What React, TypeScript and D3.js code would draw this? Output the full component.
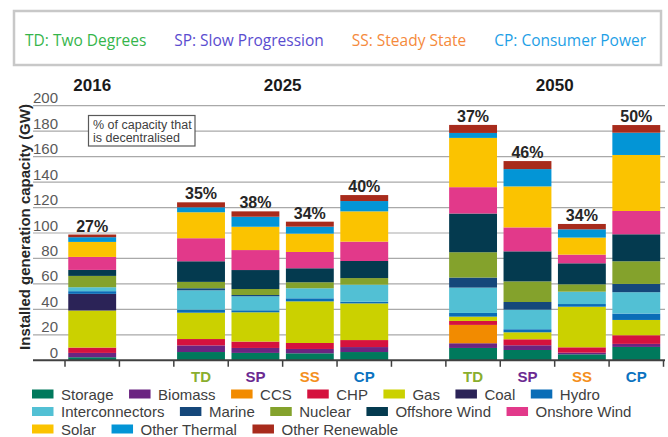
import React, { useEffect, useRef } from 'react';
import * as d3 from 'd3';

// categories (gaps are empty slots on the axis)
const slots = ['2016', 'gapA', 'TD25', 'SP25', 'SS25', 'CP25', 'gapB', 'TD50', 'SP50', 'SS50', 'CP50'];
const scenarioLabels = ['', '', 'TD', 'SP', 'SS', 'CP', '', 'TD', 'SP', 'SS', 'CP'];
const pctLabels = ['27%', '', '35%', '38%', '34%', '40%', '', '37%', '46%', '34%', '50%'];
const yTicks = [0, 20, 40, 60, 80, 100, 120, 140, 160, 180, 200];

// GW per technology, same order as slots
const storage = [2.4, 0, 6.5, 5.8, 5.5, 6.5, 0, 9.7, 8.1, 4.7, 10.5];
const biomass = [3.4, 0, 5.2, 3.9, 3.4, 3.9, 0, 3.7, 3.7, 1.3, 2.4];
const ccs = [0, 0, 0, 0, 0, 0, 0, 14.4, 0, 0, 0];
const chp = [4.2, 0, 5.0, 5.0, 4.7, 5.5, 0, 3.1, 4.7, 4.2, 6.8];
const gas = [29.1, 0, 20.7, 23.0, 32.7, 28.8, 0, 3.4, 5.5, 31.9, 12.0];
const coal = [13.1, 0, 0, 0, 0, 0, 0, 0, 0, 0, 0];
const hydro = [2.1, 0, 2.4, 1.6, 2.4, 1.3, 0, 2.9, 2.4, 2.1, 5.0];
const interconnectors = [3.1, 0, 15.2, 11.0, 7.9, 13.4, 0, 19.9, 15.4, 9.7, 16.8];
const marine = [0, 0, 1.6, 1.0, 0, 0, 0, 7.9, 6.0, 0, 6.5];
const nuclear = [8.9, 0, 5.0, 4.7, 4.7, 5.2, 0, 19.9, 16.2, 5.8, 17.8];
const offshoreWind = [4.7, 0, 16.2, 14.9, 11.0, 13.4, 0, 30.4, 23.6, 16.5, 21.2];
const onshoreWind = [10.2, 0, 18.1, 15.7, 12.8, 15.2, 0, 20.7, 18.8, 6.8, 18.3];
const solar = [11.8, 0, 20.4, 18.3, 14.4, 23.8, 0, 38.7, 32.2, 13.4, 44.0];
const otherThermal = [3.7, 0, 3.9, 7.9, 5.5, 8.1, 0, 3.9, 13.6, 6.5, 17.5];
const otherRenewable = [2.1, 0, 3.9, 4.2, 3.9, 4.7, 0, 6.3, 6.3, 4.2, 6.0];

const series = [
  { name: 'Storage', values: storage, color: '#00795c' },
  { name: 'Biomass', values: biomass, color: '#6b2481' },
  { name: 'CCS', values: ccs, color: '#f28b00' },
  { name: 'CHP', values: chp, color: '#d5123e' },
  { name: 'Gas', values: gas, color: '#cbd100' },
  { name: 'Coal', values: coal, color: '#2b2357' },
  { name: 'Hydro', values: hydro, color: '#0a6db7' },
  { name: 'Interconnectors', values: interconnectors, color: '#52c0d4' },
  { name: 'Marine', values: marine, color: '#15477a' },
  { name: 'Nuclear', values: nuclear, color: '#84a22c' },
  { name: 'Offshore Wind', values: offshoreWind, color: '#043a4f' },
  { name: 'Onshore Wind', values: onshoreWind, color: '#e2398a' },
  { name: 'Solar', values: solar, color: '#fbc300' },
  { name: 'Other Thermal', values: otherThermal, color: '#0395d6' },
  { name: 'Other Renewable', values: otherRenewable, color: '#a82b1c' },
];

const scenarios = [
  { text: 'TD: Two Degrees', color: '#35b54b' },
  { text: 'SP: Slow Progression', color: '#5a4ccf' },
  { text: 'SS: Steady State', color: '#f58a3c' },
  { text: 'CP: Consumer Power', color: '#1ea0e6' },
];
const scenarioColors = { TD: '#8aae2e', SP: '#6b2a91', SS: '#f4901e', CP: '#0b72c0' };

const App = () => {
  const svgRef = useRef(null);

  useEffect(() => {
    const svg = d3.select(svgRef.current);
    svg.selectAll('*').remove();

    const arial = '"Liberation Sans", Arial, sans-serif';

    // top scenario box
    svg.append('rect')
      .attr('x', 14).attr('y', 11).attr('width', 647).attr('height', 54)
      .attr('fill', '#fff').attr('stroke', '#c8c8c8').attr('stroke-width', 2.5);

    const topTexts = svg.append('g').selectAll('text')
      .data(scenarios).enter().append('text')
      .attr('y', 46)
      .style('font-family', '"Open Sans", sans-serif')
      .style('font-size', '15.5px')
      .attr('fill', d => d.color)
      .text(d => d.text);
    const widths = topTexts.nodes().map(n => n.getComputedTextLength());
    const gap = (646 - 25 - d3.sum(widths)) / (widths.length - 1);
    let cx = 25;
    topTexts.attr('x', (d, i) => {
      const v = cx;
      cx += widths[i] + gap;
      return v;
    });

    // scales
    const x = d3.scaleBand().domain(slots).range([65, 663.5]).paddingInner(0.12).paddingOuter(0.06);
    const y = d3.scaleLinear().domain([0, 200]).range([360.3, 105.7]);
    const step = x.step();
    const bw = x.bandwidth();

    // gridlines
    svg.append('g').selectAll('line')
      .data(yTicks.filter(t => t > 0)).enter().append('line')
      .attr('x1', 33).attr('x2', 665)
      .attr('y1', d => y(d)).attr('y2', d => y(d))
      .attr('stroke', '#a9a9a9').attr('stroke-width', 1.2);

    // y labels (sit above gridlines)
    svg.append('g').selectAll('text')
      .data(yTicks).enter().append('text')
      .attr('x', 58).attr('y', d => y(d) - 2.5)
      .attr('text-anchor', 'end')
      .style('font-family', arial).style('font-size', '15px')
      .attr('fill', '#595959')
      .text(d => d);

    svg.append('text')
      .attr('transform', 'translate(30,227) rotate(-90)')
      .attr('text-anchor', 'middle')
      .style('font-family', arial).style('font-size', '15px').style('font-weight', 'bold')
      .attr('fill', '#262626')
      .text('Installed generation capacity (GW)');

    // stacked bars
    const table = slots.map((s, i) => {
      const row = { slot: s };
      series.forEach(se => { row[se.name] = se.values[i]; });
      return row;
    });
    const stacked = d3.stack().keys(series.map(s => s.name))(table);

    svg.append('g').selectAll('g')
      .data(stacked).enter().append('g')
      .attr('fill', (d, i) => series[i].color)
      .selectAll('rect')
      .data(d => d.filter(p => p[1] - p[0] > 0)).enter().append('rect')
      .attr('x', d => x(d.data.slot))
      .attr('width', bw)
      .attr('y', d => y(d[1]))
      .attr('height', d => y(d[0]) - y(d[1]));

    // axis line + ticks
    svg.append('line')
      .attr('x1', 33).attr('x2', 665).attr('y1', y(0)).attr('y2', y(0))
      .attr('stroke', '#404040').attr('stroke-width', 2);
    const bounds = slots.map(s => x(s) - step * 0.06).concat([663.5]);
    svg.append('g').selectAll('line')
      .data(bounds).enter().append('line')
      .attr('x1', d => d).attr('x2', d => d)
      .attr('y1', y(0)).attr('y2', y(0) + 6.5)
      .attr('stroke', '#404040').attr('stroke-width', 1.5);

    // % decentralised labels
    const totals = table.map((r, i) => d3.sum(series, s => s.values[i]));
    svg.append('g').selectAll('text')
      .data(slots).enter().append('text')
      .attr('x', d => x(d) + bw / 2)
      .attr('y', (d, i) => y(totals[i]) - 3)
      .attr('text-anchor', 'middle')
      .style('font-family', arial).style('font-size', '16px').style('font-weight', 'bold')
      .attr('fill', '#262626')
      .text((d, i) => pctLabels[i]);

    // scenario labels under bars
    svg.append('g').selectAll('text')
      .data(slots).enter().append('text')
      .attr('x', d => x(d) + bw / 2)
      .attr('y', 381.5)
      .attr('text-anchor', 'middle')
      .style('font-family', arial).style('font-size', '15px').style('font-weight', 'bold')
      .attr('fill', (d, i) => scenarioColors[scenarioLabels[i]] || 'none')
      .text((d, i) => scenarioLabels[i]);

    // year headings
    const years = [
      { text: '2016', x: x('2016') + bw / 2 },
      { text: '2025', x: (x('TD25') + x('CP25') + bw) / 2 },
      { text: '2050', x: (x('TD50') + x('CP50') + bw) / 2 },
    ];
    svg.append('g').selectAll('text')
      .data(years).enter().append('text')
      .attr('x', d => d.x).attr('y', 90.5)
      .attr('text-anchor', 'middle')
      .style('font-family', arial).style('font-size', '17px').style('font-weight', 'bold')
      .attr('fill', '#1a1a1a')
      .text(d => d.text);

    // annotation box
    svg.append('rect')
      .attr('x', 88.5).attr('y', 115.5).attr('width', 106.5).attr('height', 30.5)
      .attr('fill', '#fff').attr('stroke', '#595959').attr('stroke-width', 1.2);
    svg.append('text')
      .attr('x', 93).attr('y', 129)
      .style('font-family', arial).style('font-size', '12.5px').attr('fill', '#404040')
      .text('% of capacity that');
    svg.append('text')
      .attr('x', 93).attr('y', 141.5)
      .style('font-family', arial).style('font-size', '12.5px').attr('fill', '#404040')
      .text('is decentralised');

    // bottom legend (flow layout)
    const legend = svg.append('g');
    let lx = 32;
    let row = 0;
    const rowY = [394, 411.5, 429];
    series.forEach(s => {
      const item = legend.append('g');
      const t = item.append('text')
        .attr('x', 29).attr('dominant-baseline', 'central')
        .style('font-family', arial).style('font-size', '15px')
        .attr('fill', '#404040')
        .text(s.name);
      const w = 29 + t.node().getComputedTextLength();
      if (lx + w > 662) {
        row += 1;
        lx = 32;
      }
      item.attr('transform', `translate(${lx},${rowY[row]})`);
      item.append('rect')
        .attr('x', 0).attr('y', -4.5).attr('width', 21.5).attr('height', 9)
        .attr('fill', s.color);
      lx += w + 15.5;
    });
  }, []);

  return (
    <svg
      ref={svgRef}
      width={668}
      height={437}
      style={{ position: 'absolute', left: 0, top: 0, background: '#fff' }}
    />
  );
};

export default App;
